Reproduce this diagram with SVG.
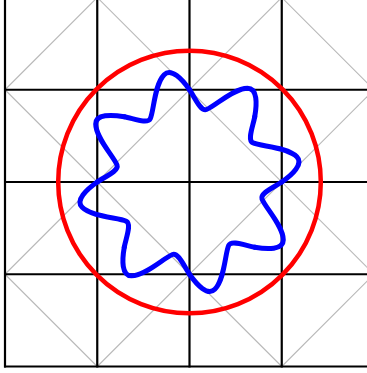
<svg xmlns="http://www.w3.org/2000/svg" xmlns:xlink="http://www.w3.org/1999/xlink" width="367" height="373" viewBox="0 0 367 373">
  <style>
    .diag { stroke: #b8b8b8; stroke-width: 1.1; fill: none; }
    .grid { stroke: #000000; stroke-width: 2.2; fill: none; }
    .circ { stroke: #ff0000; stroke-width: 4.5; fill: none; }
    .wave { stroke: #0000ff; stroke-width: 5; fill: none; stroke-linecap: round; stroke-linejoin: round; }
  </style>
  <defs>
    <path id="seg" d="M0,-92.25 C5.2,-84.9 11,-70.4 17,-72.5 C25,-75.3 44,-93.8 58,-93.8 C68,-93.8 67.5,-78 65.23,-65.23"/>
  </defs>
  <rect width="367" height="373" fill="#ffffff"/>
  <g id="diagonals">
    <line class="diag" x1="5" y1="89.75" x2="97.25" y2="-2.5"/>
    <line class="diag" x1="5" y1="274.25" x2="281.75" y2="-2.5"/>
    <line class="diag" x1="97.25" y1="366.5" x2="374" y2="89.75"/>
    <line class="diag" x1="281.75" y1="366.5" x2="374" y2="274.25"/>
    <line class="diag" x1="5" y1="274.25" x2="97.25" y2="366.5"/>
    <line class="diag" x1="5" y1="89.75" x2="281.75" y2="366.5"/>
    <line class="diag" x1="97.25" y1="-2.5" x2="374" y2="274.25"/>
    <line class="diag" x1="281.75" y1="-2.5" x2="374" y2="89.75"/>
  </g>
  <g id="grid">
    <line class="grid" x1="5" y1="-3" x2="5" y2="367.5"/>
    <line class="grid" x1="97.25" y1="-3" x2="97.25" y2="367.5"/>
    <line class="grid" x1="189.5" y1="-3" x2="189.5" y2="367.5"/>
    <line class="grid" x1="281.75" y1="-3" x2="281.75" y2="367.5"/>
    <line class="grid" x1="4" y1="89.75" x2="375" y2="89.75"/>
    <line class="grid" x1="4" y1="182" x2="375" y2="182"/>
    <line class="grid" x1="4" y1="274.25" x2="375" y2="274.25"/>
    <line class="grid" x1="4" y1="366.5" x2="375" y2="366.5"/>
  </g>
  <g id="circle">
    <circle class="circ" cx="189.5" cy="182" r="131.3"/>
  </g>
  <g id="wave" class="wave" transform="translate(189.5,182)">
    <use xlink:href="#seg" href="#seg"/>
    <use xlink:href="#seg" href="#seg" transform="rotate(45)"/>
    <use xlink:href="#seg" href="#seg" transform="rotate(90)"/>
    <use xlink:href="#seg" href="#seg" transform="rotate(135)"/>
    <use xlink:href="#seg" href="#seg" transform="rotate(180)"/>
    <use xlink:href="#seg" href="#seg" transform="rotate(225)"/>
    <use xlink:href="#seg" href="#seg" transform="rotate(270)"/>
    <use xlink:href="#seg" href="#seg" transform="rotate(315)"/>
  </g>
</svg>
